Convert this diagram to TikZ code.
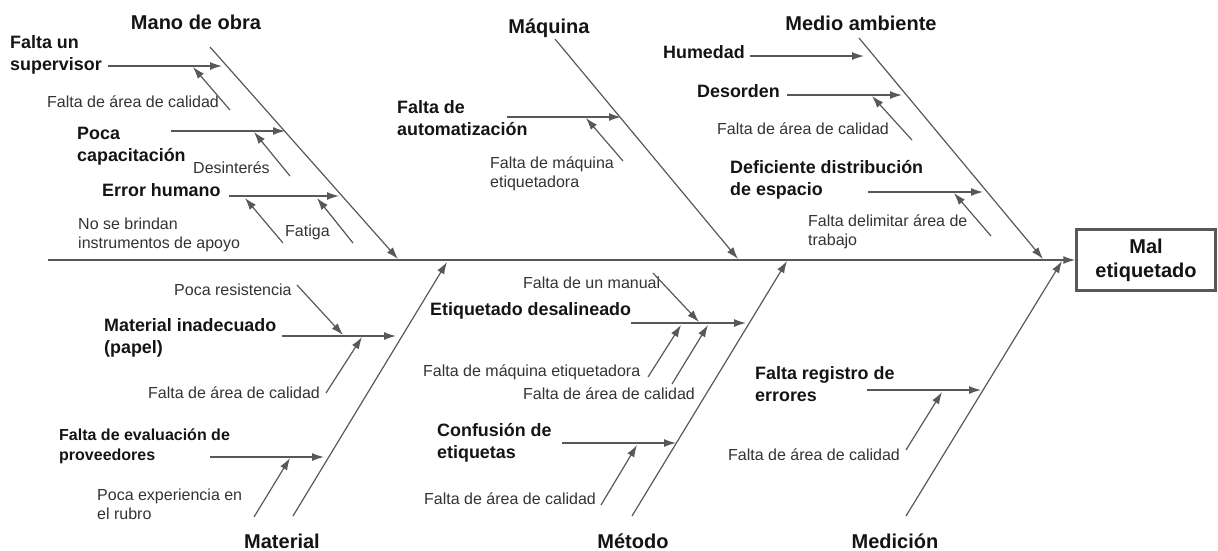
\documentclass[tikz,border=0pt]{standalone}
\usepackage{fontspec}
\setmainfont{Liberation Sans}
\usetikzlibrary{arrows.meta}
\definecolor{bonegray}{HTML}{585858}
\definecolor{boldtext}{HTML}{141414}
\definecolor{smalltext}{HTML}{333333}
\tikzstyle{bone}=[draw=bonegray, line width=1.2pt, -{Latex[length=12pt,width=8pt]}]
\tikzstyle{category}=[inner sep=0pt, text=boldtext,
  font=\fontsize{20}{24}\selectfont\bfseries]
\tikzstyle{cause}=[inner sep=0pt, anchor=west, align=left, text=boldtext,
  font=\fontsize{17.9}{22}\selectfont\bfseries]
\tikzstyle{subcause}=[inner sep=0pt, anchor=west, align=left, text=smalltext,
  font=\fontsize{16}{19}\selectfont]
\tikzstyle{effect box}=[category, draw=bonegray, line width=2.5pt, align=center,
  minimum width=139pt, minimum height=61pt]
\begin{document}
\begin{tikzpicture}[x=1pt, y=-1pt]
  \useasboundingbox (0,0) rectangle (1218,550);
  % spine and effect
  \coordinate (tail) at (48,260);
  \node [effect box] (effect) at (1146,260) {Mal\\etiquetado};
  \draw [bone] (tail) -- (effect.west);

  % titles of the six bones
  \node [category, anchor=base] (mano) at (196,29) {Mano de obra};
  \node [category, anchor=base] (maquina) at (549,33) {Máquina};
  \node [category, anchor=base] (ambiente) at (861,30) {Medio ambiente};
  \node [category, anchor=base] (material) at (282,548) {Material};
  \node [category, anchor=base] (metodo) at (633,548) {Método};
  \node [category, anchor=base] (medicion) at (895,548) {Medición};

  % end points of the bones
  \coordinate (manoA) at (210,47);   \coordinate (manoB) at (398,259);
  \coordinate (maqA) at (555,39);    \coordinate (maqB) at (738,259);
  \coordinate (ambA) at (859,38);    \coordinate (ambB) at (1043,259);
  \coordinate (matA) at (293,516);   \coordinate (matB) at (447,262);
  \coordinate (metA) at (632,516);   \coordinate (metB) at (787,261);
  \coordinate (medA) at (906,516);   \coordinate (medB) at (1062,261);
  \draw [bone] (manoA) -- (manoB);
  \draw [bone] (maqA) -- (maqB);
  \draw [bone] (ambA) -- (ambB);
  \draw [bone] (matA) -- (matB);
  \draw [bone] (metA) -- (metB);
  \draw [bone] (medA) -- (medB);

  % Mano de obra
  \node [cause] (supervisor) at (10,55) {Falta un\\supervisor};
  \node [subcause] (calidad1) at (47,102) {Falta de área de calidad};
  \node [cause] (capacitacion) at (77,146) {Poca\\capacitación};
  \node [subcause] (desinteres) at (193,168) {Desinterés};
  \node [cause] (error) at (102,190) {Error humano};
  \node [subcause] (brindan) at (78,235) {No se brindan\\instrumentos de apoyo};
  \node [subcause] (fatiga) at (285,232) {Fatiga};
  \coordinate (supA) at (108,66);    \coordinate (supB) at (222,66);
  \coordinate (cal1A) at (230,110);  \coordinate (cal1B) at (193,67);
  \coordinate (capA) at (171,131);   \coordinate (capB) at (285,131);
  \coordinate (desA) at (290,176);   \coordinate (desB) at (254,132);
  \coordinate (errA) at (229,196);   \coordinate (errB) at (339,196);
  \coordinate (briA) at (283,243);   \coordinate (briB) at (245,198);
  \coordinate (fatA) at (353,243);   \coordinate (fatB) at (317,198);
  \draw [bone] (supA) -- (supB);
  \draw [bone] (cal1A) -- (cal1B);
  \draw [bone] (capA) -- (capB);
  \draw [bone] (desA) -- (desB);
  \draw [bone] (errA) -- (errB);
  \draw [bone] (briA) -- (briB);
  \draw [bone] (fatA) -- (fatB);

  % Maquina
  \node [cause] (automatizacion) at (397,118) {Falta de\\automatización};
  \node [subcause] (etiquetadora1) at (490,174) {Falta de máquina\\etiquetadora};
  \coordinate (autA) at (507,117);   \coordinate (autB) at (621,117);
  \coordinate (eti1A) at (623,161);  \coordinate (eti1B) at (586,118);
  \draw [bone] (autA) -- (autB);
  \draw [bone] (eti1A) -- (eti1B);

  % Medio ambiente
  \node [cause] (humedad) at (663,52) {Humedad};
  \node [cause] (desorden) at (697,91) {Desorden};
  \node [subcause] (calidad2) at (717,129) {Falta de área de calidad};
  \node [cause] (distribucion) at (730,180) {Deficiente distribución\\de espacio};
  \node [subcause] (delimitar) at (808,232) {Falta delimitar área de\\trabajo};
  \coordinate (humA) at (750,56);    \coordinate (humB) at (864,56);
  \coordinate (dsoA) at (787,95);    \coordinate (dsoB) at (902,95);
  \coordinate (cal2A) at (912,140);  \coordinate (cal2B) at (872,96);
  \coordinate (disA) at (868,192);   \coordinate (disB) at (983,192);
  \coordinate (delA) at (991,236);   \coordinate (delB) at (954,193);
  \draw [bone] (humA) -- (humB);
  \draw [bone] (dsoA) -- (dsoB);
  \draw [bone] (cal2A) -- (cal2B);
  \draw [bone] (disA) -- (disB);
  \draw [bone] (delA) -- (delB);

  % Material
  \node [subcause] (resistencia) at (174,290) {Poca resistencia};
  \node [cause] (inadecuado) at (104,338) {Material inadecuado\\(papel)};
  \node [subcause] (calidad3) at (148,393) {Falta de área de calidad};
  \node [cause, font=\fontsize{16}{20}\selectfont\bfseries] (evaluacion) at (59,446)
    {Falta de evaluación de\\proveedores};
  \node [subcause] (experiencia) at (97,504) {Poca experiencia en\\el rubro};
  \coordinate (inaA) at (282,336);   \coordinate (inaB) at (396,336);
  \coordinate (resA) at (297,285);   \coordinate (resB) at (343,335);
  \coordinate (cal3A) at (326,393);  \coordinate (cal3B) at (362,337);
  \coordinate (evaA) at (210,457);   \coordinate (evaB) at (324,457);
  \coordinate (expA) at (254,517);   \coordinate (expB) at (290,458);
  \draw [bone] (inaA) -- (inaB);
  \draw [bone] (resA) -- (resB);
  \draw [bone] (cal3A) -- (cal3B);
  \draw [bone] (evaA) -- (evaB);
  \draw [bone] (expA) -- (expB);

  % Metodo
  \node [subcause] (manual) at (523,283) {Falta de un manual};
  \node [cause] (desalineado) at (430,311) {Etiquetado desalineado};
  \node [subcause] (etiquetadora2) at (423,372) {Falta de máquina etiquetadora};
  \node [subcause] (calidad4) at (523,394) {Falta de área de calidad};
  \node [cause] (confusion) at (437,443) {Confusión de\\etiquetas};
  \node [subcause] (calidad5) at (424,499) {Falta de área de calidad};
  \coordinate (dsaA) at (631,323);   \coordinate (dsaB) at (746,323);
  \coordinate (manA) at (653,273);   \coordinate (manB) at (699,322);
  \coordinate (eti2A) at (648,377);  \coordinate (eti2B) at (681,325);
  \coordinate (cal4A) at (672,384);  \coordinate (cal4B) at (708,325);
  \coordinate (conA) at (562,443);   \coordinate (conB) at (676,443);
  \coordinate (cal5A) at (601,505);  \coordinate (cal5B) at (637,445);
  \draw [bone] (dsaA) -- (dsaB);
  \draw [bone] (manA) -- (manB);
  \draw [bone] (eti2A) -- (eti2B);
  \draw [bone] (cal4A) -- (cal4B);
  \draw [bone] (conA) -- (conB);
  \draw [bone] (cal5A) -- (cal5B);

  % Medicion
  \node [cause] (registro) at (755,384) {Falta registro de\\errores};
  \node [subcause] (calidad6) at (728,455) {Falta de área de calidad};
  \coordinate (regA) at (867,390);   \coordinate (regB) at (981,390);
  \coordinate (cal6A) at (906,450);  \coordinate (cal6B) at (942,392);
  \draw [bone] (regA) -- (regB);
  \draw [bone] (cal6A) -- (cal6B);
\end{tikzpicture}
\end{document}
